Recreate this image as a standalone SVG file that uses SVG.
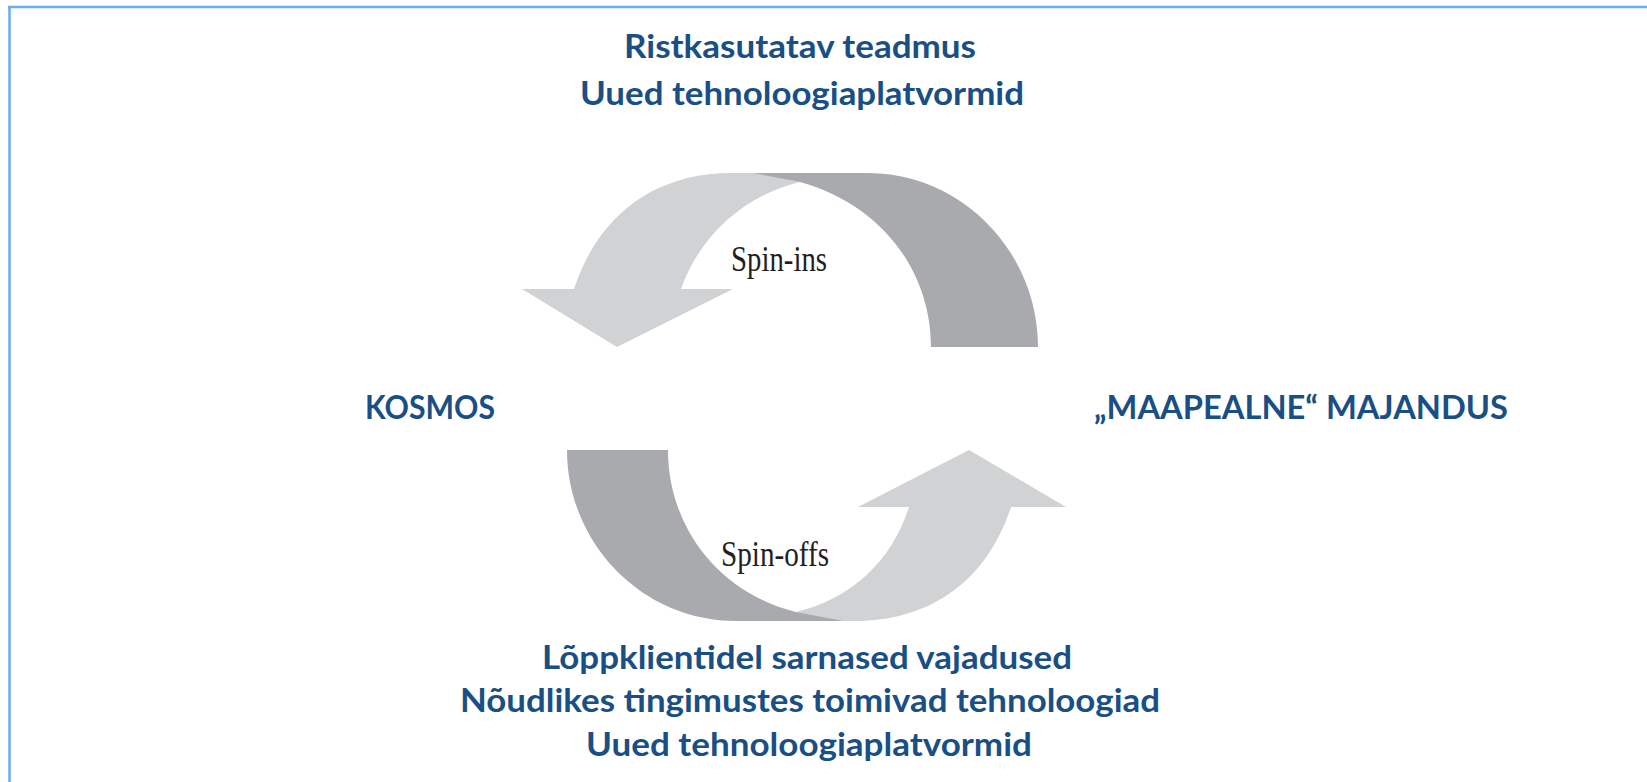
<svg xmlns="http://www.w3.org/2000/svg" width="1647" height="782" viewBox="0 0 1647 782">
<style>
.lbl{font-family:Lato,"Liberation Sans",sans-serif;font-weight:700;font-size:32px;fill:#1A4F86;text-anchor:middle}
.spin{font-family:"Liberation Serif","Times New Roman",serif;font-size:35px;fill:#231F20}
.light{fill:#D1D2D4}
.dark{fill:#A9AAAE}
.frame{stroke:#6AABEF;stroke-width:2.5;fill:none}
</style>
<rect x="0" y="0" width="1647" height="782" fill="#FFFFFF"/>
<g id="frame">
<line class="frame" x1="8" y1="7" x2="1647" y2="7"/>
<line class="frame" x1="9.5" y1="6" x2="9.5" y2="782"/>
</g>
<g id="connectors">
<g id="spin-ins">
<path class="light" d="M522,289 L574,289 C600,210 660,173 731,173 L760,173 L800,182 C745,195 700,235 681,289 L733,289 L617,347 Z"/>
<path class="dark" d="M753,173 L868,173 C962,173 1038,252 1038,347 L931,347 C931,270 880,204 800,182 Z"/>
<text class="spin" x="731" y="271" textLength="96" lengthAdjust="spacingAndGlyphs">Spin-ins</text>
</g>
<g id="spin-offs">
<path class="light" d="M1066,507 L1011,507 C985,586 925,621 855,621 L830,621 L796,612 C851,599 892,561 909,507 L858,507 L969,450 Z"/>
<path class="dark" d="M567,450 L668,450 C668,527 719,593 796,612 L843,621 L736,621 C642,621 567,543 567,450 Z"/>
<text class="spin" x="721" y="566" textLength="108" lengthAdjust="spacingAndGlyphs">Spin-offs</text>
</g>
</g>
<g id="top-text">
<text class="lbl" x="800" y="58" textLength="352" lengthAdjust="spacingAndGlyphs">Ristkasutatav teadmus</text>
<text class="lbl" x="802" y="105" textLength="444" lengthAdjust="spacingAndGlyphs">Uued tehnoloogiaplatvormid</text>
</g>
<g id="kosmos">
<text class="lbl" x="430" y="419" textLength="130" lengthAdjust="spacingAndGlyphs">KOSMOS</text>
</g>
<g id="maapealne">
<text class="lbl" x="1301" y="419" textLength="414" lengthAdjust="spacingAndGlyphs">„MAAPEALNE“ MAJANDUS</text>
</g>
<g id="bottom-text">
<text class="lbl" x="807" y="669" textLength="530" lengthAdjust="spacingAndGlyphs">Lõppklientidel sarnased vajadused</text>
<text class="lbl" x="810" y="712" textLength="700" lengthAdjust="spacingAndGlyphs">Nõudlikes tingimustes toimivad tehnoloogiad</text>
<text class="lbl" x="809" y="756" textLength="446" lengthAdjust="spacingAndGlyphs">Uued tehnoloogiaplatvormid</text>
</g>
</svg>
